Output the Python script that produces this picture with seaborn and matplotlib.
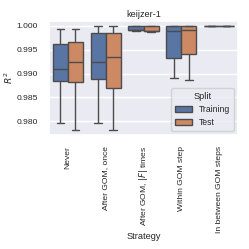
import numpy as np
import pandas as pd
import matplotlib
matplotlib.use("Agg")
import matplotlib.pyplot as plt
import seaborn as sns

strategies = ["Never", "After GOM, once", r"After GOM, $|F|$ times",
              "Within GOM step", "In between GOM steps"]
splits = ["Training", "Test"]

# five-number summaries (whisker low, Q1, median, Q3, whisker high)
train_lo  = [0.97973, 0.97973, 0.99892, 0.98903, 1.00000]
train_q1  = [0.98841, 0.98880, 0.99905, 0.99335, 1.00000]
train_med = [0.99101, 0.99239, 0.99912, 0.99883, 1.00000]
train_q3  = [0.99623, 0.99842, 1.00000, 1.00000, 1.00000]
train_hi  = [0.99938, 1.00000, 1.00000, 1.00000, 1.00000]

test_lo  = [0.97821, 0.97821, 0.99880, 0.98855, 1.00000]
test_q1  = [0.98820, 0.98704, 0.99895, 0.99418, 1.00000]
test_med = [0.99239, 0.99348, 0.99900, 0.99911, 1.00000]
test_q3  = [0.99671, 0.99842, 1.00000, 1.00000, 1.00000]
test_hi  = [0.99938, 1.00000, 1.00000, 1.00000, 1.00000]

rows = []
for split, stats in (("Training", (train_lo, train_q1, train_med, train_q3, train_hi)),
                     ("Test", (test_lo, test_q1, test_med, test_q3, test_hi))):
    for i, s in enumerate(strategies):
        for arr in stats:
            rows.append({"Strategy": s, "Split": split, "R2": arr[i]})
df = pd.DataFrame(rows)

sns.set_theme(style="darkgrid")
plt.rcParams["font.family"] = ["Liberation Sans", "DejaVu Sans"]

fig = plt.figure(figsize=(2.49, 2.49), dpi=100)
ax = fig.add_axes([49/249, (249-135)/249, (238-49)/249, (135-20.7)/249])
sns.boxplot(data=df, x="Strategy", y="R2", hue="Split", order=strategies,
            hue_order=splits, ax=ax, showfliers=False, linewidth=1)
ax.set_title("keijzer-1", fontsize=6.6, pad=3)
ax.set_xlabel("Strategy", fontsize=6.6, labelpad=-1)
ax.set_ylabel(r"$R^2$", fontsize=6.6, labelpad=1)
ax.tick_params(axis="both", labelsize=6.1, pad=2)
ax.set_yticks([0.980, 0.985, 0.990, 0.995, 1.000])
ax.set_yticklabels(["0.980", "0.985", "0.990", "0.995", "1.000"])
plt.setp(ax.get_xticklabels(), rotation=90)
leg = ax.legend(title="Split", loc="lower right", fontsize=6.2, title_fontsize=6.6)
fig.savefig("out.png", dpi=100)
